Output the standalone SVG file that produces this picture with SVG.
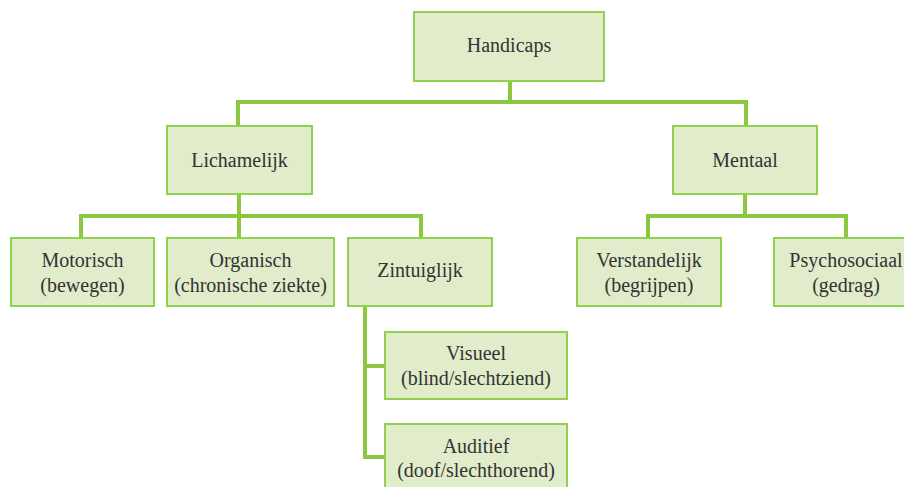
<svg xmlns="http://www.w3.org/2000/svg" width="904" height="487" viewBox="0 0 904 487">
<style>
.box{fill:#E0ECCA;stroke:#92D050;stroke-width:2}
.lbl{font-family:"Liberation Serif","DejaVu Serif",serif;font-size:20px;fill:#333;text-anchor:middle}
.con{fill:none;stroke:#8DC73F;stroke-width:4;stroke-linejoin:miter}
</style>
<rect width="904" height="487" fill="#fff"/>
<g id="connectors">
<path class="con" d="M510 81V102M238 102H746M238 100V126M746 100V126"/>
<path class="con" d="M239 194V216M81 216H421M81 214V238M239 214V238M421 214V238"/>
<path class="con" d="M745 194V216M648 216H846M648 214V238M846 214V238"/>
<path class="con" d="M365 306V457H385M363 366H385"/>
</g>
<g id="handicaps"><rect class="box" x="414" y="12" width="190" height="69"/><text class="lbl" x="509" y="52">Handicaps</text></g>
<g id="lichamelijk"><rect class="box" x="167" y="126" width="145" height="68"/><text class="lbl" x="239.5" y="167">Lichamelijk</text></g>
<g id="mentaal"><rect class="box" x="673" y="126" width="144" height="68"/><text class="lbl" x="745" y="167">Mentaal</text></g>
<g id="motorisch"><rect class="box" x="11" y="238" width="143" height="68"/><text class="lbl" x="82.5" y="267">Motorisch</text><text class="lbl" x="82.5" y="292">(bewegen)</text></g>
<g id="organisch"><rect class="box" x="167" y="238" width="167" height="68"/><text class="lbl" x="250.5" y="267">Organisch</text><text class="lbl" x="250.5" y="292">(chronische ziekte)</text></g>
<g id="zintuiglijk"><rect class="box" x="348" y="238" width="144" height="68"/><text class="lbl" x="420" y="277">Zintuiglijk</text></g>
<g id="verstandelijk"><rect class="box" x="577" y="238" width="144" height="68"/><text class="lbl" x="649" y="267">Verstandelijk</text><text class="lbl" x="649" y="292">(begrijpen)</text></g>
<g id="psychosociaal"><rect class="box" x="774" y="238" width="144" height="68"/><text class="lbl" x="846" y="267">Psychosociaal</text><text class="lbl" x="846" y="292">(gedrag)</text></g>
<g id="visueel"><rect class="box" x="385" y="332" width="182" height="67"/><text class="lbl" x="476" y="360">Visueel</text><text class="lbl" x="476" y="385">(blind/slechtziend)</text></g>
<g id="auditief"><rect class="box" x="385" y="424" width="182" height="68"/><text class="lbl" x="476" y="453">Auditief</text><text class="lbl" x="476" y="477">(doof/slechthorend)</text></g>
</svg>
